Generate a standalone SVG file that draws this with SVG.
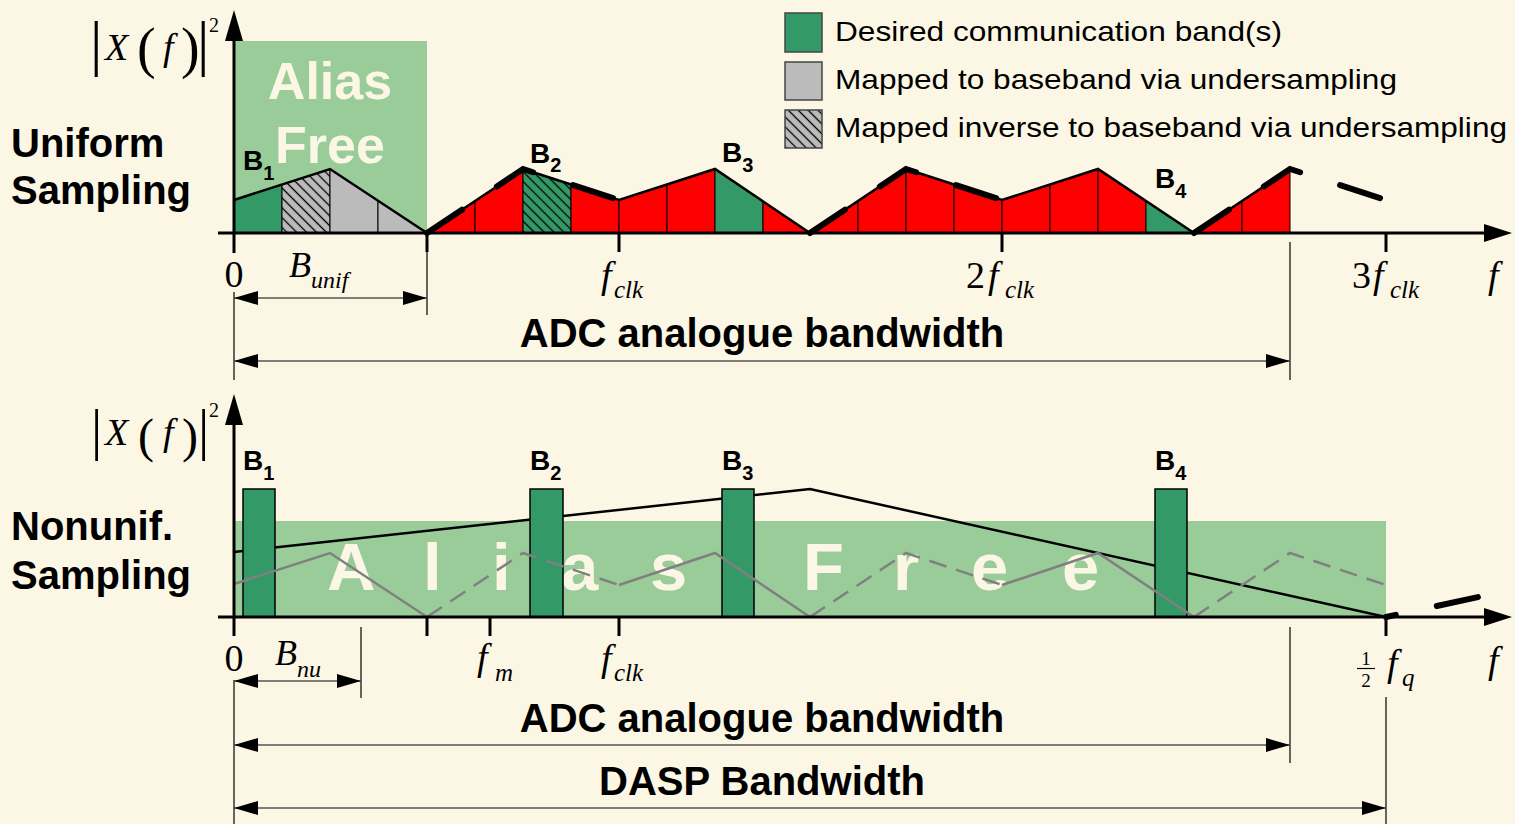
<svg xmlns="http://www.w3.org/2000/svg" width="1515" height="824" viewBox="0 0 1515 824">
<style>
.dg{fill:#339966}
.lg{fill:#99CC99}
.gr{fill:#BBBBBB}
.rd{fill:#FF0000}
.sec{stroke:#000;stroke-width:1}
.env{fill:none;stroke:#000;stroke-width:2.5;stroke-linejoin:miter}
.fold{fill:none;stroke:#000;stroke-width:6;stroke-dasharray:42 42;stroke-linecap:round}
.axis{stroke:#000;stroke-width:3;fill:none}
.ext{stroke:#000;stroke-width:1.2}
.dim{stroke:#555;stroke-width:1.5;marker-start:url(#ah);marker-end:url(#ah)}
.title{font-family:"Liberation Sans",Arial,sans-serif;font-weight:bold;font-size:40px;fill:#000}
.big{font-family:"Liberation Sans",Arial,sans-serif;font-weight:bold;fill:#FCF7E4}
.bl{font-family:"Liberation Sans",Arial,sans-serif;font-weight:bold;font-size:28px;fill:#000}
.bs{font-size:20px}
.leg{font-family:"Liberation Sans",Arial,sans-serif;font-size:28px;fill:#000}
.m{font-family:"Liberation Serif","Times New Roman",serif;font-size:38px;fill:#000}
.mi{font-style:italic}
.sb{font-size:25px;font-style:italic}
.gline{fill:none;stroke:#808080;stroke-width:2.5}
.gdash{stroke-dasharray:18 10}
.box{stroke:#444;stroke-width:1.5}
</style>
<defs>
<pattern id="hatchGray" patternUnits="userSpaceOnUse" width="7" height="7" patternTransform="rotate(-45)">
<rect width="7" height="7" fill="#BBBBBB"/>
<line x1="3.5" y1="0" x2="3.5" y2="7" stroke="#000" stroke-width="1.3"/>
</pattern>
<pattern id="hatchGreen" patternUnits="userSpaceOnUse" width="7" height="7" patternTransform="rotate(-45)">
<rect width="7" height="7" fill="#339966"/>
<line x1="3.5" y1="0" x2="3.5" y2="7" stroke="#000" stroke-width="1.3"/>
</pattern>
<marker id="ah" viewBox="0 0 24 14" refX="24" refY="7" markerWidth="24" markerHeight="14" markerUnits="userSpaceOnUse" orient="auto-start-reverse">
<path d="M0,0 L24,7 L0,14 z" fill="#000"/>
</marker>
</defs>
<rect width="1515" height="824" fill="#FCF7E4"/>

<g id="legend">
<rect class="dg box" x="785" y="13" width="37" height="39"/>
<text class="leg" x="835" y="41" textLength="447" lengthAdjust="spacingAndGlyphs">Desired communication band(s)</text>
<rect class="gr box" x="785" y="62" width="37" height="38"/>
<text class="leg" x="835" y="89" textLength="562" lengthAdjust="spacingAndGlyphs">Mapped to baseband via undersampling</text>
<rect class="box" fill="url(#hatchGray)" x="785" y="110" width="37" height="38"/>
<text class="leg" x="835" y="137" textLength="672" lengthAdjust="spacingAndGlyphs">Mapped inverse to baseband via undersampling</text>
</g>

<g id="uniform-panel">
<text class="title" x="11" y="157">Uniform</text>
<text class="title" x="11" y="204">Sampling</text>
<rect class="lg" x="234" y="41" width="193" height="192"/>
<text class="big" x="330" y="99" font-size="52" text-anchor="middle">Alias</text>
<text class="big" x="330" y="163" font-size="52" text-anchor="middle">Free</text>
<g id="top-spectrum">
<polygon class="dg sec" points="234,233 234,200 282,184.5 282,233"/>
<polygon class="sec" fill="url(#hatchGray)" points="282,233 282,184.5 330,169 330,233"/>
<polygon class="gr sec" points="330,233 330,169 378,200.7 378,233"/>
<polygon class="gr sec" points="378,233 378,200.7 427,233"/>
<polygon class="rd sec" points="427,233 475,201 475,233"/>
<polygon class="rd sec" points="475,233 475,201 523,169 523,233"/>
<polygon class="sec" fill="url(#hatchGreen)" points="523,233 523,169 571,184.5 571,233"/>
<polygon class="rd sec" points="571,233 571,184.5 619,200 619,233"/>
<polygon class="rd sec" points="619,233 619,200 667,184.5 667,233"/>
<polygon class="rd sec" points="667,233 667,184.5 715,169 715,233"/>
<polygon class="dg sec" points="715,233 715,169 763,201.3 763,233"/>
<polygon class="rd sec" points="763,233 763,201.3 810,233"/>
<polygon class="rd sec" points="810,233 858,201 858,233"/>
<polygon class="rd sec" points="858,233 858,201 906,169 906,233"/>
<polygon class="rd sec" points="906,233 906,169 954,184.5 954,233"/>
<polygon class="rd sec" points="954,233 954,184.5 1002,200 1002,233"/>
<polygon class="rd sec" points="1002,233 1002,200 1050,184.5 1050,233"/>
<polygon class="rd sec" points="1050,233 1050,184.5 1098,169 1098,233"/>
<polygon class="rd sec" points="1098,233 1098,169 1146,201 1146,233"/>
<polygon class="dg sec" points="1146,233 1146,201 1194,233"/>
<polygon class="rd sec" points="1194,233 1242,201 1242,233"/>
<polygon class="rd sec" points="1242,233 1242,201 1290,169 1290,233"/>
<polyline class="env" points="234,200 330,169 427,233 523,169 619,200 715,169 810,233 906,169 1002,200 1098,169 1194,233 1290,169"/>
<path class="fold" d="M427,233 L523,169 L619,200"/>
<path class="fold" d="M810,233 L906,169 L1002,200"/>
<path class="fold" d="M1194,233 L1290,169 L1386,200"/>
</g>
<text class="bl" x="243" y="170">B<tspan class="bs" dy="10">1</tspan></text>
<text class="bl" x="530" y="163">B<tspan class="bs" dy="9">2</tspan></text>
<text class="bl" x="722" y="162">B<tspan class="bs" dy="10">3</tspan></text>
<text class="bl" x="1155" y="188">B<tspan class="bs" dy="10">4</tspan></text>
<g id="top-axes">
<line class="axis" x1="234" y1="253" x2="234" y2="36"/>
<polygon points="225,41 234,10 243,41" fill="#000"/>
<line class="axis" x1="218" y1="233" x2="1490" y2="233"/>
<polygon points="1484,224 1512,233 1484,242" fill="#000"/>
<line class="axis" x1="427" y1="233" x2="427" y2="252"/>
<line class="axis" x1="619" y1="233" x2="619" y2="252"/>
<line class="axis" x1="1002" y1="233" x2="1002" y2="252"/>
<line class="axis" x1="1386" y1="233" x2="1386" y2="252"/>
</g>
<text id="top-ylabel" class="m"><tspan x="90" y="64" font-size="62">|</tspan><tspan class="mi" x="105" y="60">X</tspan><tspan x="137" y="67" font-size="56">(</tspan><tspan class="mi" x="163" y="60">f</tspan><tspan x="181" y="67" font-size="56">)</tspan><tspan x="197" y="64" font-size="62">|</tspan><tspan x="209" y="32" font-size="20">2</tspan></text>
<text class="m" x="234" y="287" text-anchor="middle">0</text>
<text class="m mi" x="289" y="277" style="font-size:36px">B<tspan x="311" y="288" font-size="24">unif</tspan></text>
<text class="m mi" x="601" y="288">f<tspan class="sb" x="614" y="298">clk</tspan></text>
<text class="m" x="966" y="288">2<tspan class="mi" x="988">f</tspan><tspan class="sb" x="1005" y="298">clk</tspan></text>
<text class="m" x="1352" y="288">3<tspan class="mi" x="1373">f</tspan><tspan class="sb" x="1390" y="298">clk</tspan></text>
<text class="m mi" x="1488" y="288">f</text>
</g>

<g id="top-dimensions">
<line class="ext" x1="427" y1="252" x2="427" y2="315"/>
<line class="ext" x1="234" y1="292" x2="234" y2="380"/>
<line class="ext" x1="1290" y1="242" x2="1290" y2="380"/>
<line class="dim" x1="234" y1="298" x2="427" y2="298"/>
<line class="dim" x1="234" y1="361" x2="1290" y2="361"/>
<text class="title" x="762" y="347" text-anchor="middle">ADC analogue bandwidth</text>
</g>

<g id="nonuniform-panel">
<text class="title" x="11" y="540">Nonunif.</text>
<text class="title" x="11" y="589">Sampling</text>
<rect class="lg" x="234" y="521" width="1152" height="96"/>
<text class="big" y="590" font-size="67"><tspan x="327">A</tspan><tspan x="423">l</tspan><tspan x="492">i</tspan><tspan x="561">a</tspan><tspan x="650">s</tspan><tspan x="803">F</tspan><tspan x="893">r</tspan><tspan x="971">e</tspan><tspan x="1062">e</tspan></text>
<polyline class="env" points="234,552 810,489 1386,617"/>
<path class="fold" style="stroke-dasharray:10 42 42" d="M1386,617 L1483,596"/>
<g id="bottom-bands">
<rect class="dg" stroke="#000" stroke-width="1.5" x="243" y="489" width="32" height="128"/>
<rect class="dg" stroke="#000" stroke-width="1.5" x="530" y="489" width="33" height="128"/>
<rect class="dg" stroke="#000" stroke-width="1.5" x="722" y="489" width="32" height="128"/>
<rect class="dg" stroke="#000" stroke-width="1.5" x="1155" y="489" width="32" height="128"/>
</g>
<g id="bottom-aliases">
<path class="gline" d="M234,584 L330,553 L427,617 M619,585 L715,553 L810,617 M1002,585 L1098,553 L1194,617"/>
<path class="gline gdash" d="M427,617 L523,553 L619,585"/>
<path class="gline gdash" d="M810,617 L906,553 L1002,585"/>
<path class="gline gdash" d="M1194,617 L1290,553 L1386,585"/>
</g>
<text class="bl" x="243" y="470">B<tspan class="bs" dy="10">1</tspan></text>
<text class="bl" x="530" y="470">B<tspan class="bs" dy="10">2</tspan></text>
<text class="bl" x="722" y="470">B<tspan class="bs" dy="10">3</tspan></text>
<text class="bl" x="1155" y="470">B<tspan class="bs" dy="10">4</tspan></text>
<g id="bottom-axes">
<line class="axis" x1="234" y1="636" x2="234" y2="420"/>
<polygon points="225,425 234,394 243,425" fill="#000"/>
<line class="axis" x1="218" y1="617" x2="1490" y2="617"/>
<polygon points="1484,608 1512,617 1484,626" fill="#000"/>
<line class="axis" x1="427" y1="617" x2="427" y2="636"/>
<line class="axis" x1="490" y1="617" x2="490" y2="636"/>
<line class="axis" x1="619" y1="617" x2="619" y2="636"/>
<line class="axis" x1="1386" y1="617" x2="1386" y2="636"/>
</g>
<text id="bottom-ylabel" class="m"><tspan x="91" y="449" font-size="56">|</tspan><tspan class="mi" x="105" y="445">X</tspan><tspan x="138" y="452" font-size="48">(</tspan><tspan class="mi" x="163" y="445">f</tspan><tspan x="182" y="452" font-size="48">)</tspan><tspan x="198" y="449" font-size="56">|</tspan><tspan x="209" y="417" font-size="20">2</tspan></text>
<text class="m" x="234" y="671" text-anchor="middle">0</text>
<text class="m mi" x="275" y="665" style="font-size:36px">B<tspan x="297" y="677" font-size="24">nu</tspan></text>
<text class="m mi" x="477" y="670">f<tspan class="sb" x="495" y="681">m</tspan></text>
<text class="m mi" x="601" y="671">f<tspan class="sb" x="614" y="681">clk</tspan></text>
<text class="m" x="1366" y="665" text-anchor="middle" style="font-size:19px">1</text>
<line x1="1357" y1="668.5" x2="1375" y2="668.5" stroke="#000" stroke-width="1.2"/>
<text class="m" x="1366" y="687" text-anchor="middle" style="font-size:19px">2</text>
<text class="m mi" x="1387" y="676">f<tspan class="sb" x="1402" y="686">q</tspan></text>
<text class="m mi" x="1488" y="673">f</text>
</g>

<g id="bottom-dimensions">
<line class="ext" x1="234" y1="680" x2="234" y2="824"/>
<line class="ext" x1="361" y1="627" x2="361" y2="698"/>
<line class="ext" x1="1290" y1="627" x2="1290" y2="763"/>
<line class="ext" x1="1386" y1="697" x2="1386" y2="824"/>
<line class="dim" x1="234" y1="681" x2="361" y2="681"/>
<line class="dim" x1="234" y1="745" x2="1290" y2="745"/>
<text class="title" x="762" y="732" text-anchor="middle">ADC analogue bandwidth</text>
<line class="dim" x1="234" y1="808" x2="1386" y2="808"/>
<text class="title" x="762" y="795" text-anchor="middle">DASP Bandwidth</text>
</g>
</svg>
